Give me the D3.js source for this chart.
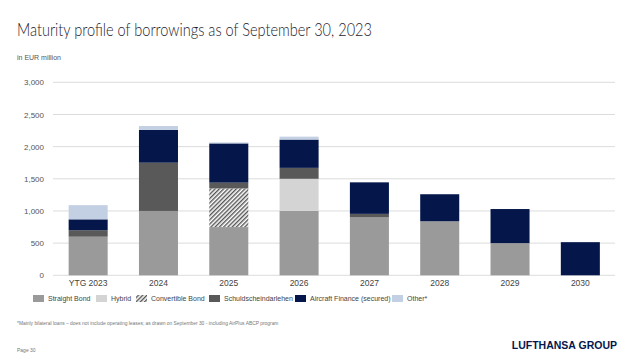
<!DOCTYPE html>
<html><head><meta charset="utf-8">
<script src="https://cdn.jsdelivr.net/npm/d3@7"></script>
<style>body{margin:0;background:#fff}svg{display:block}</style>
</head><body><svg id="c" width="640" height="360"></svg>
<script>
const categories = ["YTG 2023","2024","2025","2026","2027","2028","2029","2030"];
const seriesNames = ["Straight Bond","Hybrid","Convertible Bond","Schuldscheindarlehen","Aircraft Finance (secured)","Other*"];
const straightBond = [600,1000,750,1000,900,840,500,0];
const hybrid       = [0,0,0,500,0,0,0,0];
const convertible  = [0,0,600,0,0,0,0,0];
const schuldschein = [100,750,90,170,55,0,0,0];
const aircraft     = [170,510,610,440,490,420,530,515];
const other        = [220,60,15,45,0,0,0,0];
const yTicks = [0,500,1000,1500,2000,2500,3000];
const colors = ["#9a9a9a","#d4d4d4","url(#hatch)","#595959","#05174a","#c3cfe2"];

const svg = d3.select("#c");
const defs = svg.append("defs");
const pat = defs.append("pattern").attr("id","hatch").attr("patternUnits","userSpaceOnUse")
  .attr("width",3).attr("height",3).attr("patternTransform","rotate(45)");
pat.append("rect").attr("width",3).attr("height",3).attr("fill","#ffffff");
pat.append("rect").attr("width",1.4).attr("height",3).attr("fill","#555");

const font = "'Liberation Sans', Arial, sans-serif";
svg.append("text").attr("x",17).attr("y",36).attr("font-family","Lato, sans-serif").attr("font-weight",300)
  .attr("font-size",17.5).attr("fill","#1a1a2e").attr("textLength",355).attr("lengthAdjust","spacingAndGlyphs")
  .text("Maturity profile of borrowings as of September 30, 2023");
svg.append("text").attr("x",17).attr("y",60).attr("font-family",font).attr("font-size",7).attr("fill","#555").text("in EUR million");

const x = d3.scaleBand().domain(categories).range([53,615.5]).paddingInner(0.445).paddingOuter(0.2225);
const y = d3.scaleLinear().domain([0,3000]).range([275.3,82.3]);

const grid = svg.append("g");
grid.selectAll("line").data(yTicks).join("line")
  .attr("x1",53).attr("x2",615).attr("y1",d=>y(d)).attr("y2",d=>y(d))
  .attr("stroke","#dcdcdc").attr("stroke-width",1);

const yAxis = svg.append("g").attr("transform","translate(47,0)")
  .call(d3.axisLeft(y).tickValues(yTicks).tickFormat(d3.format(",")).tickSize(0).tickPadding(3));
yAxis.select(".domain").remove();
yAxis.selectAll("text").attr("font-family",font).attr("font-size",8).attr("fill","#555");

const xAxis = svg.append("g").attr("transform","translate(0,276)")
  .call(d3.axisBottom(x).tickSize(0).tickPadding(4));
xAxis.select(".domain").remove();
xAxis.selectAll("text").attr("font-family",font).attr("font-size",8.5).attr("fill","#444");

const table = categories.map((c,i)=>({cat:c, s0:straightBond[i], s1:hybrid[i], s2:convertible[i], s3:schuldschein[i], s4:aircraft[i], s5:other[i]}));
const stack = d3.stack().keys(["s0","s1","s2","s3","s4","s5"])(table);
svg.append("g").selectAll("g").data(stack).join("g").attr("fill",(d,i)=>colors[i])
  .selectAll("rect").data(d=>d.filter(p=>p[1]-p[0]>0)).join("rect")
  .attr("x",d=>x(d.data.cat)).attr("width",x.bandwidth())
  .attr("y",d=>y(d[1])).attr("height",d=>y(d[0])-y(d[1]));

const legX = [33,96,136,209,295,392];
const lg = svg.append("g");
seriesNames.forEach((n,i)=>{
  lg.append("rect").attr("x",legX[i]).attr("y",295).attr("width",11).attr("height",7).attr("fill",colors[i]);
  lg.append("text").attr("x",legX[i]+15).attr("y",301).attr("font-family",font).attr("font-size",7).attr("fill","#444").text(n);
});

svg.append("text").attr("x",17).attr("y",325).attr("font-family",font).attr("font-size",4.9).attr("fill","#777")
  .text("*Mainly bilateral loans – does not include operating leases; as drawn on September 30 - including AirPlus ABCP program");
svg.append("text").attr("x",17).attr("y",352).attr("font-family",font).attr("font-size",5).attr("fill","#777").text("Page 30");
svg.append("text").attr("x",617).attr("y",349).attr("text-anchor","end").attr("font-family",font).attr("font-weight","bold")
  .attr("font-size",10.5).attr("fill","#05164d").text("LUFTHANSA GROUP");
</script></body></html>
